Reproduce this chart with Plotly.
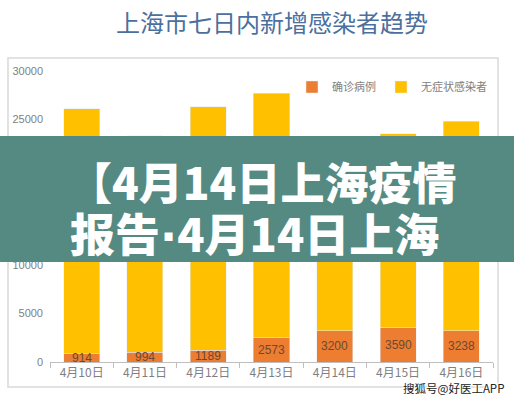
import plotly.graph_objects as go

dates = ["4月10日", "4月11日", "4月12日", "4月13日", "4月14日", "4月15日", "4月16日"]
confirmed = [914, 994, 1189, 2573, 3200, 3590, 3238]
asymptomatic = [25173, 22348, 25141, 25146, 19872, 19923, 21582]
y_ticks = [0, 5000, 10000, 15000, 20000, 25000, 30000]
y_tick_text = ["0", "5000", "10000", "15000", "20000", "25000", "30000"]

W, H = 514, 400
L, R, T, B = 50, 21, 71, 38
pw, ph = W - L - R, H - T - B

def px(x):
    return (x - L) / pw

def py(y):
    return (H - B - y) / ph

orange = "#ED7D31"
yellow = "#FFC000"
grey = "#7F7F7F"

fig = go.Figure()
fig.add_trace(go.Bar(x=dates, y=confirmed, name="确诊病例", marker_color=orange))
fig.add_trace(go.Bar(x=dates, y=asymptomatic, name="无症状感染者", marker_color=yellow))

annotations = []
for d, v in zip(dates, confirmed):
    annotations.append(dict(x=d, y=v / 2, xref="x", yref="y", text=str(v), showarrow=False,
                            yanchor="middle", font=dict(size=12, color="#6b4a33",
                                                        family="Liberation Sans, Arial")))

dot = "<span style='font-family:DejaVu Sans'>·</span>"
annotations.append(dict(x=0.5, y=py(22), xref="paper", yref="paper", text="上海市七日内新增感染者趋势",
                        showarrow=False, xanchor="center", yanchor="middle",
                        font=dict(size=24, color="#4C6F9E", family="Noto Sans CJK SC")))
annotations.append(dict(x=px(66), y=py(181), xref="paper", yref="paper", text="【4月14日上海疫情",
                        showarrow=False, xanchor="left", yanchor="middle",
                        font=dict(size=44, color="white", family="Noto Sans CJK SC", weight=900)))
annotations.append(dict(x=px(68), y=py(232), xref="paper", yref="paper", text="报告" + dot + "4月14日上海",
                        showarrow=False, xanchor="left", yanchor="middle",
                        font=dict(size=45, color="white", family="Noto Sans CJK SC", weight=900)))
annotations.append(dict(x=px(506), y=py(388), xref="paper", yref="paper", text="搜狐号@好医工APP",
                        showarrow=False, xanchor="right", yanchor="middle",
                        font=dict(size=11.5, color="#222222", family="Noto Sans CJK SC",
                                  shadow="1px 1px 1px white, -1px -1px 1px white, 1px -1px 1px white, -1px 1px 1px white")))

shapes = [
    dict(type="rect", xref="paper", yref="paper", x0=px(8), x1=px(498), y0=py(387), y1=py(58),
         line=dict(color="#D9D9D9", width=1.5), fillcolor="rgba(0,0,0,0)", layer="below"),
    dict(type="rect", xref="paper", yref="paper", x0=px(-2), x1=px(W + 2), y0=py(262), y1=py(136),
         line=dict(width=0), fillcolor="#548A81", layer="above"),
]

fig.update_layout(
    width=W, height=H,
    margin=dict(l=L, r=R, t=T, b=B, autoexpand=False),
    barmode="stack",
    bargap=0.43,
    paper_bgcolor="white",
    plot_bgcolor="white",
    font=dict(family="Noto Sans CJK SC", color=grey),
    showlegend=True,
    legend=dict(orientation="h", x=px(492), xanchor="right", y=py(87), yanchor="middle",
                font=dict(size=11, color=grey), bgcolor="rgba(0,0,0,0)",
                traceorder="normal", itemwidth=30, tracegroupgap=0),
    xaxis=dict(showline=True, linecolor="#BFBFBF", linewidth=1, ticks="outside",
               tickson="boundaries", ticklen=5, tickcolor="#BFBFBF",
               tickfont=dict(size=12, color=grey, family="Noto Sans CJK SC"), showgrid=False),
    yaxis=dict(range=[0, 30000], tickvals=y_ticks, ticktext=y_tick_text, showgrid=False,
               zeroline=False, showline=False,
               tickfont=dict(size=11, color=grey, family="Liberation Sans, Arial"), ticklabelstandoff=6),
    annotations=annotations,
    shapes=shapes,
)

fig.write_html("out.html", config={"displayModeBar": False},
               post_script="document.body.style.margin='0';document.body.style.overflow='hidden';")
